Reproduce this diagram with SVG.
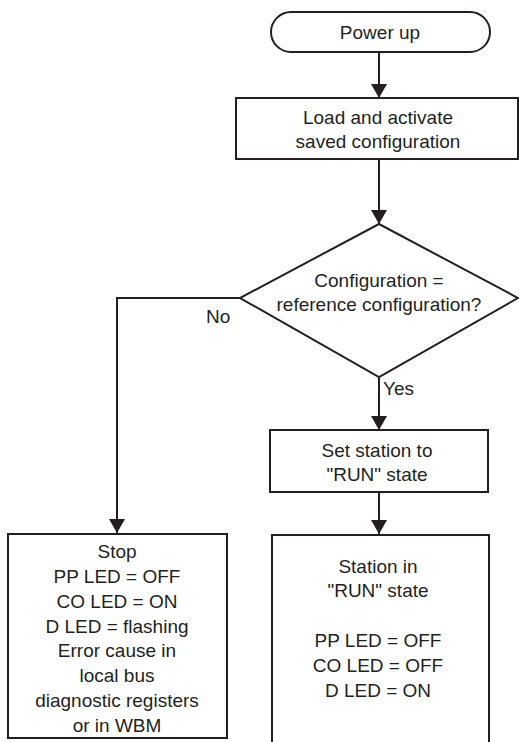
<svg xmlns="http://www.w3.org/2000/svg" width="519" height="742" viewBox="0 0 519 742">
<style>
.shape{fill:#ffffff;stroke:#231f20;stroke-width:2}
.conn{fill:none;stroke:#231f20;stroke-width:2}
text{font-family:"Liberation Sans",Arial,sans-serif;font-size:19px;fill:#231f20;text-anchor:middle}
.lbl{text-anchor:start}
</style>
<defs>
<marker id="arr" viewBox="0 0 14 16" refX="14" refY="8" markerWidth="14" markerHeight="16" orient="auto" markerUnits="userSpaceOnUse">
<path d="M0,0 L14,8 L0,16 z" fill="#231f20"/>
</marker>
</defs>
<rect width="519" height="742" fill="#ffffff"/>
<g id="connectors">
<path class="conn" d="M379,52 V98" marker-end="url(#arr)"/>
<path class="conn" d="M379,159 V224" marker-end="url(#arr)"/>
<path class="conn" d="M379,377 V430" marker-end="url(#arr)"/>
<path class="conn" d="M379,492 V534" marker-end="url(#arr)"/>
<path class="conn" d="M240,298 H117 V533" marker-end="url(#arr)"/>
<text class="lbl" x="206" y="323">No</text>
<text class="lbl" x="383" y="395">Yes</text>
</g>
<g id="power-up">
<rect class="shape" x="271" y="12" width="219" height="40" rx="20"/>
<text x="380" y="39">Power up</text>
</g>
<g id="load-config">
<rect class="shape" x="236" y="98" width="282" height="61"/>
<text x="378" y="124">Load and activate</text>
<text x="378" y="148">saved configuration</text>
</g>
<g id="decision">
<polygon class="shape" points="379,224 518,298 379,377 240,298"/>
<text x="379" y="287">Configuration =</text>
<text x="379" y="311">reference configuration?</text>
</g>
<g id="set-run">
<rect class="shape" x="270" y="430" width="218" height="62"/>
<text x="377" y="457">Set station to</text>
<text x="377" y="481">"RUN" state</text>
</g>
<g id="stop">
<rect class="shape" x="8" y="534" width="219" height="204"/>
<text x="117" y="558">Stop</text>
<text x="117" y="583">PP LED = OFF</text>
<text x="117" y="608">CO LED = ON</text>
<text x="117" y="633">D LED = flashing</text>
<text x="117" y="657">Error cause in</text>
<text x="117" y="682">local bus</text>
<text x="117" y="707">diagnostic registers</text>
<text x="117" y="732">or in WBM</text>
</g>
<g id="run-state">
<rect class="shape" x="272" y="535" width="217" height="212"/>
<text x="378" y="573">Station in</text>
<text x="378" y="597">"RUN" state</text>
<text x="378" y="647">PP LED = OFF</text>
<text x="378" y="672">CO LED = OFF</text>
<text x="378" y="697">D LED = ON</text>
</g>
</svg>
